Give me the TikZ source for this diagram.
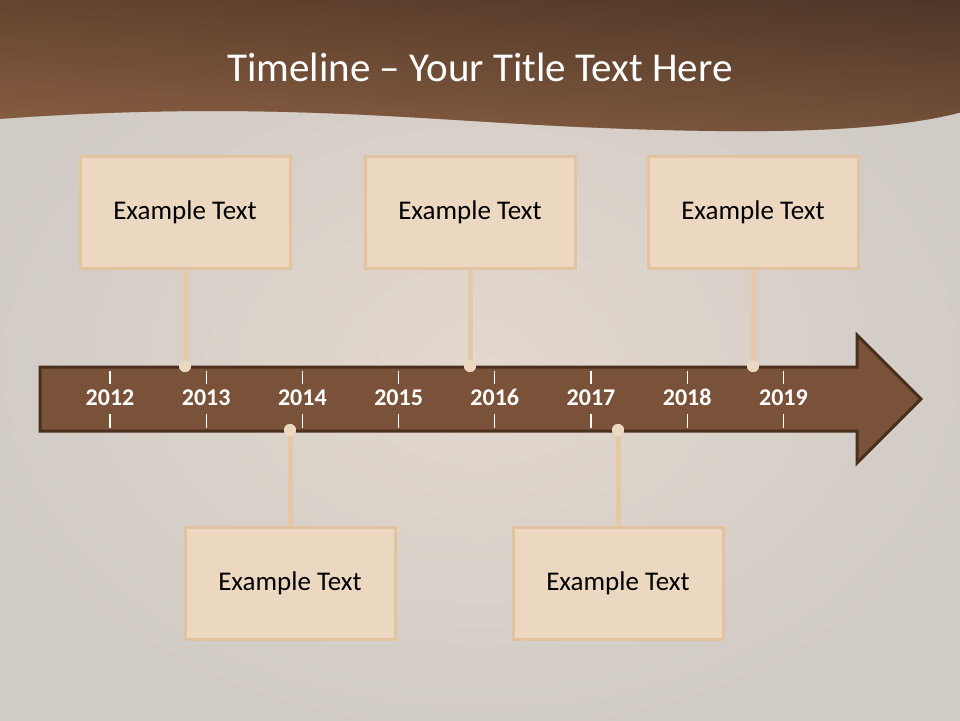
\documentclass[tikz,border=0pt]{standalone}
\usepackage{fontspec}
\setmainfont{Carlito}
\definecolor{bgwood}{HTML}{D1CBC6}
\definecolor{bglight}{HTML}{E3D8CD}
\definecolor{hdrlight}{HTML}{8C5F42}
\definecolor{hdrdark}{HTML}{5F4331}
\definecolor{hdrtop}{HTML}{3E2A1E}
\definecolor{hdrbottom}{HTML}{8A6044}
\definecolor{arrowfill}{HTML}{7A5239}
\definecolor{arrowline}{HTML}{4A2F1F}
\definecolor{boxfill}{HTML}{ECD7C1}
\definecolor{boxline}{HTML}{E2C29F}
\definecolor{stem}{HTML}{E6C8A6}
\begin{document}
\begin{tikzpicture}[x=1pt,y=-1pt,
  event/.style={rectangle, fill=boxfill, draw=boxline, line width=3pt,
    minimum width=210pt, minimum height=112pt, font=\fontsize{27}{32}\selectfont},
  year/.style={text=white, anchor=base, font=\bfseries\fontsize{24}{28}\selectfont},
  pin/.style={circle, fill=boxfill, inner sep=0pt, minimum size=12pt},
  stemline/.style={stem, line width=5pt}]
\useasboundingbox (0,0) rectangle (960,720);
% background and header
\shade[inner color=bglight, outer color=bgwood] (-40,-10) rectangle (1000,740);
\def\wave{(0,-2) -- (962,-2) -- (962,112)
  .. controls (880,134) and (740,134) .. (580,127)
  .. controls (420,120) and (260,100) .. (-2,119) -- cycle}
\shade[left color=hdrlight, right color=hdrdark] \wave;
\shade[top color=hdrtop, bottom color=hdrbottom, opacity=0.5] \wave;
\node[text=white, font=\fontsize{41}{48}\selectfont] (title) at (480,67) {Timeline -- Your Title Text Here};
% arrow
\draw[fill=arrowfill, draw=arrowline, line width=3pt, line join=miter]
  (40,367) -- (857,367) -- (857,335) -- (921,399) -- (857,463) -- (857,431) -- (40,431) -- cycle;
\foreach \yr [count=\i from 0] in {2012,...,2019}{
  \pgfmathsetmacro{\xx}{110+96.2*\i}
  \draw[white, line width=1.2pt] (\xx,371) -- (\xx,384);
  \draw[white, line width=1.2pt] (\xx,414) -- (\xx,428);
  \node[year] (y\yr) at (\xx,405) {\yr};
}
% events above
\node[event] (ev1) at (185,212) {Example Text};
\node[event] (ev2) at (470,212) {Example Text};
\node[event] (ev3) at (753,212) {Example Text};
\node[pin] (p1) at (185,366) {};
\node[pin] (p2) at (470,366) {};
\node[pin] (p3) at (753,366) {};
% events below
\node[event] (ev4) at (290,583) {Example Text};
\node[event] (ev5) at (618,583) {Example Text};
\node[pin] (p4) at (290,430) {};
\node[pin] (p5) at (618,430) {};
\draw[stemline] (ev1.south) -- (p1.center);
\draw[stemline] (ev2.south) -- (p2.center);
\draw[stemline] (ev3.south) -- (p3.center);
\draw[stemline] (ev4.north) -- (p4.center);
\draw[stemline] (ev5.north) -- (p5.center);
\node[pin] at (p1) {};
\node[pin] at (p2) {};
\node[pin] at (p3) {};
\node[pin] at (p4) {};
\node[pin] at (p5) {};
\end{tikzpicture}
\end{document}
